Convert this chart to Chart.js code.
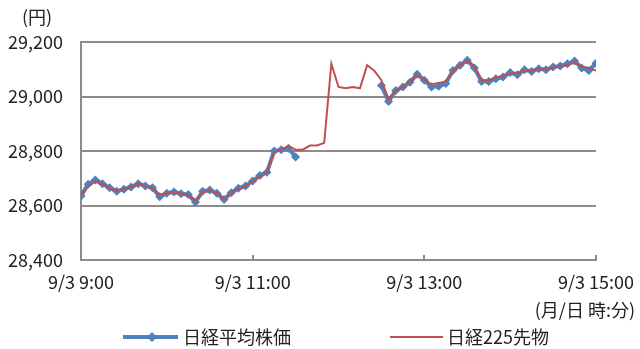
<!DOCTYPE html>
<html>
<head>
<meta charset="utf-8">
<script src="https://cdn.jsdelivr.net/npm/chart.js@4"></script>
<style>
  html, body { margin: 0; padding: 0; background: #fff; }
  #wrap { width: 640px; height: 349px; }
</style>
</head>
<body>
<div id="wrap"><canvas id="lineChart" width="640" height="349"></canvas></div>
<script>
// minutes after 9:00, every 5 minutes up to 15:00
var times = [];
for (var m = 0; m <= 360; m += 5) times.push(m);

var xTicks = [0, 120, 240, 360];
var xTickLabels = ['9/3 9:00', '9/3 11:00', '9/3 13:00', '9/3 15:00'];
var yTicks = [28400, 28600, 28800, 29000, 29200];

// 日経平均株価 (no trading 11:35 - 12:25)
var nikkeiAm = [28635, 28678, 28694, 28680, 28665, 28652, 28660, 28668, 28680, 28672,
                28665, 28632, 28645, 28650, 28643, 28640, 28612, 28652, 28657, 28645,
                28622, 28647, 28663, 28672, 28690, 28710, 28722, 28800, 28805, 28810,
                28778];
var nikkeiLunch = [null, null, null, null, null, null, null, null, null, null, null];
var nikkeiPm = [29040, 28982, 29022, 29035, 29052, 29082, 29060, 29035, 29038, 29048,
                29095, 29115, 29133, 29105, 29055, 29055, 29065, 29072, 29088, 29080,
                29098, 29092, 29102, 29098, 29108, 29112, 29120, 29130, 29105, 29095,
                29122];

// 日経225先物
var futuresAm = [28640, 28670, 28688, 28678, 28663, 28655, 28660, 28668, 28680, 28670,
                 28662, 28640, 28645, 28648, 28643, 28638, 28618, 28648, 28655, 28645,
                 28625, 28645, 28660, 28670, 28688, 28705, 28720, 28795, 28805, 28818,
                 28805];
var futuresLunch = [28805, 28820, 28820, 28830, 29120, 29035, 29030, 29035, 29030, 29115, 29095];
var futuresPm = [29060, 28990, 29020, 29035, 29055, 29078, 29062, 29045, 29050, 29055,
                 29095, 29115, 29130, 29110, 29060, 29060, 29070, 29075, 29085, 29085,
                 29095, 29095, 29100, 29100, 29105, 29110, 29115, 29125, 29110, 29105,
                 29095];

var nikkei = nikkeiAm.concat(nikkeiLunch, nikkeiPm);
var futures = futuresAm.concat(futuresLunch, futuresPm);

function toPoints(vals) {
    return vals.map(function (v, i) { return { x: times[i], y: v }; });
}

var blue = '#4f81bd';
var red = '#c0504d';
var gray = '#8c8c8c';
var font = '"Noto Sans CJK JP", "Noto Sans", sans-serif';

var extras = {
    id: 'extras',
    afterDraw: function (chart) {
        var c = chart.ctx;
        c.save();
        c.fillStyle = '#222';
        c.font = '18px ' + font;
        c.textBaseline = 'middle';
        c.textAlign = 'center';
        c.fillText('(円)', 37, 17);
        c.textAlign = 'right';
        c.fillText('(月/日 時:分)', 635, 310);

        // legend
        var ly = 337;
        c.strokeStyle = blue;
        c.lineWidth = 4;
        c.beginPath(); c.moveTo(123, ly); c.lineTo(178, ly); c.stroke();
        c.fillStyle = blue;
        c.beginPath();
        c.moveTo(152, ly - 5); c.lineTo(157, ly); c.lineTo(152, ly + 5); c.lineTo(147, ly);
        c.closePath(); c.fill();
        c.strokeStyle = red;
        c.lineWidth = 2;
        c.beginPath(); c.moveTo(390, ly); c.lineTo(443, ly); c.stroke();
        c.fillStyle = '#222';
        c.textAlign = 'left';
        c.fillText('日経平均株価', 183, ly);
        c.fillText('日経225先物', 447, ly);
        c.restore();
    }
};

var ctx = document.getElementById('lineChart').getContext('2d');
var myChart = new Chart(ctx, {
    type: 'line',
    data: {
        datasets: [
            {
                label: '日経225先物',
                data: toPoints(futures),
                borderColor: red,
                borderWidth: 2,
                pointRadius: 0,
                tension: 0,
                order: 0
            },
            {
                label: '日経平均株価',
                data: toPoints(nikkei),
                borderColor: blue,
                backgroundColor: blue,
                borderWidth: 4,
                pointStyle: 'rectRot',
                pointRadius: 4.5,
                pointBorderWidth: 0,
                spanGaps: false,
                tension: 0,
                order: 1
            }
        ]
    },
    options: {
        responsive: false,
        animation: false,
        devicePixelRatio: 1,
        layout: { padding: { top: 42, right: 44, bottom: 0, left: 0 } },
        plugins: { legend: { display: false }, tooltip: { enabled: false } },
        scales: {
            x: {
                type: 'linear',
                min: 0,
                max: 360,
                afterBuildTicks: function (scale) {
                    scale.ticks = xTicks.map(function (v) { return { value: v }; });
                },
                afterFit: function (scale) {
                    scale.height = 89;
                    scale.paddingLeft = 0;
                    scale.paddingRight = 0;
                },
                grid: { drawOnChartArea: false, drawTicks: true, tickLength: -5, color: gray, lineWidth: 2 },
                border: { color: gray, width: 2 },
                ticks: {
                    padding: 16,
                    maxRotation: 0,
                    color: '#222',
                    font: { family: font, size: 18 },
                    callback: function (v) { return xTickLabels[xTicks.indexOf(v)]; }
                }
            },
            y: {
                min: 28400,
                max: 29200,
                afterBuildTicks: function (scale) {
                    scale.ticks = yTicks.map(function (v) { return { value: v }; });
                },
                afterFit: function (scale) { scale.width = 81; },
                grid: { drawTicks: false, color: gray, lineWidth: 2 },
                border: { color: gray, width: 2 },
                ticks: {
                    padding: 18,
                    color: '#222',
                    font: { family: font, size: 18 },
                    callback: function (v) { return v.toLocaleString('en-US'); }
                }
            }
        }
    },
    plugins: [extras]
});
</script>
</body>
</html>
